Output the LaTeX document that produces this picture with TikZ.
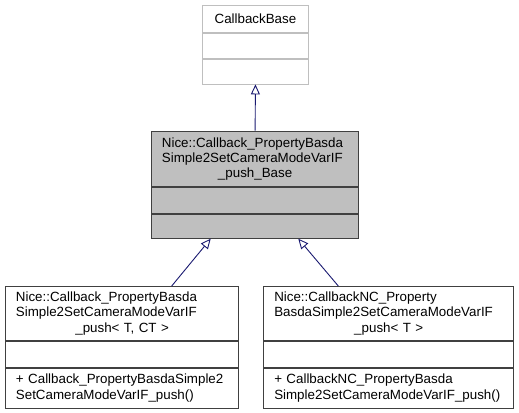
\documentclass[tikz,border=0pt]{standalone}
\usepackage{fontspec}
\setmainfont{Liberation Sans}
\usetikzlibrary{arrows.meta}
\definecolor{edgeblue}{HTML}{191970}
\definecolor{boxgray}{HTML}{BFBFBF}
\definecolor{lightborder}{HTML}{BFBFBF}
\definecolor{darkborder}{HTML}{404040}
\tikzset{
  part/.style={draw=darkborder, line width=0.9bp, rectangle, anchor=north west,
    inner xsep=10.5bp, inner ysep=0pt, align=left,
    font=\fontsize{13.4}{15.3}\selectfont},
  lightpart/.style={part, draw=lightborder},
  inh/.style={draw=edgeblue, line width=0.9bp,
    -{Triangle[open, length=10bp, width=9bp, fill=white]}},
}
\newcommand{\ctrline}[1]{\makebox[\linewidth]{#1}}
\begin{document}
\begin{tikzpicture}[x=1bp, y=-1bp]
\useasboundingbox (0,0) rectangle (519,412);
% CallbackBase
\node[lightpart, minimum width=106.6bp, text width=85.6bp, minimum height=26.7bp, align=center] (baseT) at (201.7,5) {CallbackBase};
\node[lightpart, minimum width=106.6bp, text width=85.6bp, minimum height=25bp] (baseA) at (baseT.south west) {};
\node[lightpart, minimum width=106.6bp, text width=85.6bp, minimum height=25bp] (baseM) at (baseA.south west) {};
% Middle
\node[part, fill=boxgray, minimum width=207.3bp, text width=186.3bp, minimum height=55.3bp] (midT) at (151,130.7)
  {Nice::Callback\_PropertyBasda\\Simple2SetCameraModeVarIF\\\ctrline{\_push\_Base}};
\node[part, fill=boxgray, minimum width=207.3bp, text width=186.3bp, minimum height=25.7bp] (midA) at (midT.south west) {};
\node[part, fill=boxgray, minimum width=207.3bp, text width=186.3bp, minimum height=24.3bp] (midM) at (midA.south west) {};
% Bottom left
\node[part, minimum width=233.3bp, text width=212.3bp, minimum height=54bp] (leftT) at (5,286)
  {Nice::Callback\_PropertyBasda\\Simple2SetCameraModeVarIF\\\ctrline{\_push< T, CT >}};
\node[part, minimum width=233.3bp, text width=212.3bp, minimum height=25.7bp] (leftA) at (leftT.south west) {};
\node[part, minimum width=233.3bp, text width=212.3bp, minimum height=40bp] (leftM) at (leftA.south west)
  {+ Callback\_PropertyBasdaSimple2\\SetCameraModeVarIF\_push()};
% Bottom right
\node[part, minimum width=250bp, text width=229bp, minimum height=54bp] (rightT) at (263.3,286)
  {Nice::CallbackNC\_Property\\BasdaSimple2SetCameraModeVarIF\\\ctrline{\_push< T >}};
\node[part, minimum width=250bp, text width=229bp, minimum height=25.7bp] (rightA) at (rightT.south west) {};
\node[part, minimum width=250bp, text width=229bp, minimum height=40bp] (rightM) at (rightA.south west)
  {+ CallbackNC\_PropertyBasda\\Simple2SetCameraModeVarIF\_push()};
% Connector end points
\path (leftT.north west) ++(166.7,0) coordinate (lA);
\path (midM.south west) ++(59.7,0) coordinate (mL);
\path (rightT.north west) ++(75,0) coordinate (rA);
\path (midM.south west) ++(147.3,0) coordinate (mR);
% Inheritance
\draw[inh] (midT.north) -- (baseM.south);
\draw[inh] (lA) -- (mL);
\draw[inh] (rA) -- (mR);
\end{tikzpicture}
\end{document}
